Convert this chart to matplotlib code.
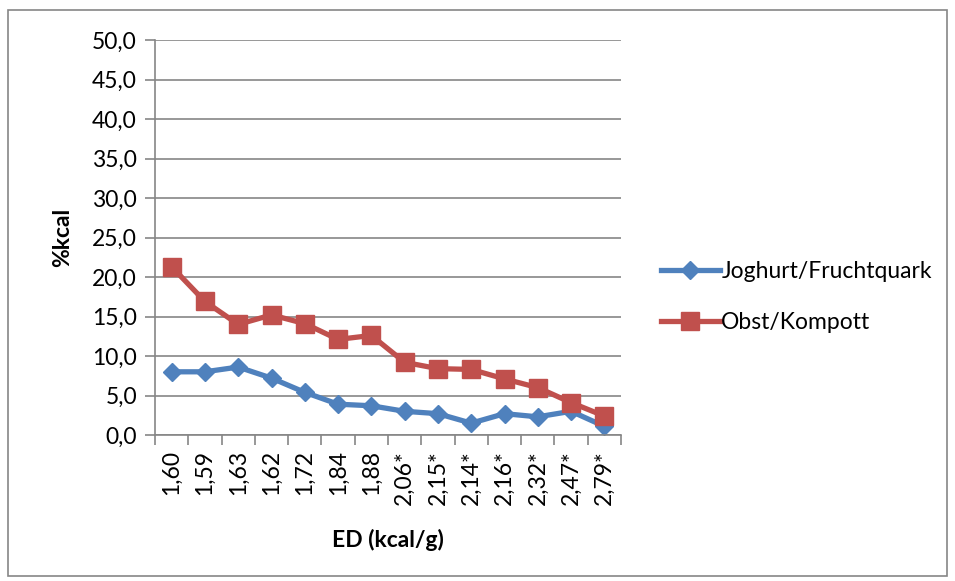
import matplotlib.pyplot as plt
from matplotlib.patches import Rectangle
import numpy as np

plt.rcParams['font.family'] = ['Lato', 'DejaVu Sans']

ed_labels = ['1,60', '1,59', '1,63', '1,62', '1,72', '1,84', '1,88',
             '2,06*', '2,15*', '2,14*', '2,16*', '2,32*', '2,47*', '2,79*']
joghurt = [8.0, 8.0, 8.6, 7.2, 5.4, 3.9, 3.7, 3.0, 2.7, 1.5, 2.7, 2.3, 3.0, 1.1]
obst = [21.3, 16.9, 14.0, 15.2, 14.1, 12.1, 12.6, 9.2, 8.4, 8.3, 7.1, 6.0, 4.1, 2.4]

grey = '#868686'
blue = '#4F81BD'
red = '#C0504D'
fs = 16.5

fig = plt.figure(figsize=(9.55, 5.81), dpi=100)
ax = fig.add_axes([155/955, 1 - 435/581, (621-155)/955, (435-40)/581])

x = np.arange(len(ed_labels))
ax.plot(x, joghurt, color=blue, lw=3.8, marker='D', ms=9.5, label='Joghurt/Fruchtquark')
ax.plot(x, obst, color=red, lw=3.8, marker='s', ms=13, label='Obst/Kompott')

ax.set_ylim(0, 50)
ax.set_yticks(np.arange(0, 51, 5))
ax.set_yticklabels([f'{v:.1f}'.replace('.', ',') for v in np.arange(0, 51, 5)])
ax.set_xlim(-0.5, len(ed_labels) - 0.5)
ax.set_xticks(x)
ax.set_xticklabels(ed_labels, rotation=90)
ax.set_xticks(np.arange(-0.5, len(ed_labels)), minor=True)
ax.tick_params(axis='x', which='major', length=0, pad=11, labelsize=fs)
ax.tick_params(axis='x', which='minor', length=7, color=grey, width=1.2)
ax.tick_params(axis='y', length=7, color=grey, width=1.2, labelsize=fs, pad=6)

ax.grid(axis='y', color=grey, lw=1.2)
ax.set_axisbelow(True)
for side in ('top', 'right'):
    ax.spines[side].set_visible(False)
for side in ('left', 'bottom'):
    ax.spines[side].set_color(grey)
    ax.spines[side].set_linewidth(1.2)

ax.set_ylabel('%kcal', fontsize=fs, fontweight='bold', labelpad=14)
ax.set_xlabel('ED (kcal/g)', fontsize=fs, fontweight='bold', labelpad=17)

ax.legend(loc='center left', bbox_to_anchor=(640/955, 1 - 297/581),
          bbox_transform=fig.transFigure, frameon=False, fontsize=fs,
          handlelength=2.6, handletextpad=0.05, labelspacing=1.3)

fig.patches.append(Rectangle((8/955, 1 - 576/581), 939/955, 566/581,
                             transform=fig.transFigure, fill=False,
                             edgecolor=grey, lw=1.2))

fig.savefig('out.png', dpi=100)
